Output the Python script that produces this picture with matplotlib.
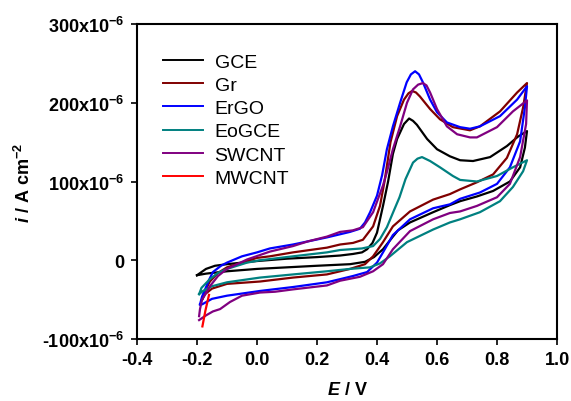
import numpy as np
import matplotlib
matplotlib.use("Agg")
import matplotlib.pyplot as plt
from matplotlib.ticker import FixedLocator, FixedFormatter

plt.rcParams['font.family'] = ['Liberation Sans', 'DejaVu Sans']
plt.rcParams['mathtext.fontset'] = 'custom'
plt.rcParams['mathtext.rm'] = 'Liberation Sans:bold'
plt.rcParams['mathtext.it'] = 'Liberation Sans:bold:italic'
plt.rcParams['mathtext.bf'] = 'Liberation Sans:bold'
plt.rcParams['axes.unicode_minus'] = False

# ---- data (E in V, i in uA cm^-2), closed CV loops: forward then reverse ----
gce_E = [-0.2, -0.17, -0.14, -0.1, -0.05, 0.0, 0.1, 0.2, 0.277, 0.32, 0.35, 0.367, 0.385, 0.4, 0.42, 0.437,
         0.453, 0.467, 0.49, 0.507, 0.52, 0.533, 0.55, 0.567, 0.6, 0.643, 0.677, 0.72, 0.777, 0.833, 0.87, 0.9,
         0.893, 0.877, 0.843, 0.787, 0.733, 0.677, 0.643, 0.587, 0.51, 0.47, 0.453, 0.42, 0.39, 0.36, 0.31,
         0.2, 0.1, 0.0, -0.1, -0.17, -0.2]
gce_i = [-19, -11, -7, -5, -3, -1, 2, 4, 6, 8, 10, 14, 22, 35, 69, 100,
         135, 154, 173, 180, 177, 172, 163, 154, 141, 132, 127, 126, 131, 145, 157, 164,
         143, 118, 100, 88, 81, 75, 70, 61, 48, 38, 30, 14, 4, -2, -5,
         -7, -9, -11, -14, -17, -19]

gr_E = [-0.183, -0.175, -0.157, -0.13, -0.1, -0.05, 0.0, 0.043, 0.12, 0.233, 0.277, 0.32, 0.353, 0.387, 0.41,
        0.425, 0.445, 0.467, 0.49, 0.505, 0.517, 0.53, 0.543, 0.577, 0.61, 0.653, 0.71, 0.743, 0.81, 0.867, 0.9,
        0.887, 0.867, 0.833, 0.787, 0.733, 0.677, 0.643, 0.587, 0.51, 0.453, 0.42, 0.387, 0.36, 0.31, 0.233,
        0.12, 0.01, -0.1, -0.15, -0.173, -0.183]
gr_i = [-50, -40, -27, -16, -9, -3, 3, 5, 10, 16, 20, 22, 26, 43, 69,
        100, 150, 183, 204, 212, 215, 213, 208, 192, 179, 169, 165, 170, 189, 213, 225,
        194, 160, 130, 109, 99, 90, 84, 77, 62, 43, 23, 5, -5, -11, -18,
        -22, -27, -30, -36, -43, -50]

ergo_E = [-0.19, -0.183, -0.173, -0.16, -0.147, -0.12, -0.1, -0.05, 0.0, 0.043, 0.12, 0.233, 0.277, 0.31,
          0.343, 0.36, 0.377, 0.4, 0.417, 0.433, 0.453, 0.477, 0.499, 0.513, 0.527, 0.54, 0.553, 0.577, 0.6,
          0.633, 0.677, 0.71, 0.743, 0.81, 0.867, 0.9,
          0.893, 0.877, 0.843, 0.8, 0.743, 0.677, 0.643, 0.587, 0.51, 0.453, 0.42, 0.4, 0.367, 0.32, 0.277,
          0.233, 0.12, 0.01, -0.1, -0.15, -0.183, -0.19]
ergo_i = [-56, -46, -37, -25, -15, -7, -3, 5, 10, 15, 20, 29, 33, 36,
          40, 48, 61, 82, 108, 141, 170, 200, 226, 236, 240, 236, 226, 204, 188,
          175, 169, 167, 170, 183, 204, 221,
          194, 151, 118, 97, 86, 78, 71, 66, 52, 32, 10, -3, -15, -20, -24,
          -28, -34, -39, -45, -49, -56, -56]

eo_E = [-0.193, -0.185, -0.157, -0.13, -0.1, -0.033, 0.01, 0.12, 0.233, 0.277, 0.35, 0.387, 0.41, 0.433,
        0.455, 0.475, 0.495, 0.52, 0.535, 0.55, 0.577, 0.61, 0.653, 0.677, 0.733, 0.8, 0.853, 0.9,
        0.887, 0.853, 0.81, 0.743, 0.677, 0.643, 0.587, 0.5, 0.443, 0.41, 0.377, 0.31, 0.233, 0.12,
        0.01, -0.1, -0.15, -0.18, -0.193]
eo_i = [-43, -35, -24, -16, -11, -3, 0, 5, 10, 13, 15, 18, 27, 42,
        62, 80, 103, 124, 129, 131, 126, 118, 107, 102, 100, 107, 118, 127,
        113, 93, 75, 61, 52, 48, 39, 23, 5, -4, -9, -11, -14, -18,
        -22, -28, -33, -39, -43]

sw_E = [-0.193, -0.19, -0.183, -0.157, -0.13, -0.1, -0.033, 0.043, 0.12, 0.17, 0.233, 0.277, 0.32, 0.353,
        0.387, 0.42, 0.433, 0.453, 0.477, 0.5, 0.52, 0.537, 0.553, 0.565, 0.577, 0.6, 0.633, 0.667, 0.71,
        0.733, 0.8, 0.853, 0.9,
        0.897, 0.877, 0.843, 0.8, 0.733, 0.677, 0.643, 0.587, 0.51, 0.453, 0.42, 0.387, 0.343, 0.277,
        0.233, 0.12, 0.06, 0.01, -0.05, -0.09, -0.123, -0.147, -0.17, -0.193]
sw_i = [-71, -62, -50, -33, -20, -11, 1, 11, 18, 24, 30, 36, 38, 42,
        61, 95, 112, 141, 170, 200, 217, 223, 225, 222, 213, 192, 170, 160, 156,
        156, 169, 189, 203,
        173, 131, 97, 80, 69, 62, 60, 52, 37, 14, -5, -14, -21, -26,
        -32, -37, -40, -41, -45, -53, -62, -65, -70, -76]

mw_E = [-0.182, -0.172, -0.16]
mw_i = [-84, -64, -44]

labels = ['GCE', 'Gr', 'ErGO', 'EoGCE', 'SWCNT', 'MWCNT']
colors = ['#000000', '#800000', '#0000FF', '#008080', '#800080', '#FF0000']

x_ticks = [-0.4, -0.2, 0.0, 0.2, 0.4, 0.6, 0.8, 1.0]
x_ticklabels = ['-0.4', '-0.2', '0.0', '0.2', '0.4', '0.6', '0.8', '1.0']
y_ticks = [-100, 0, 100, 200, 300]
y_ticklabels = [r'-100x10$^{\mathregular{-6}}$', '0', r'100x10$^{\mathregular{-6}}$',
                r'200x10$^{\mathregular{-6}}$', r'300x10$^{\mathregular{-6}}$']

fig = plt.figure(figsize=(5.71, 4.02), dpi=100)
ax = fig.add_axes([137 / 571, 62 / 402, 420 / 571, 315 / 402])

series = [(gce_E, gce_i), (gr_E, gr_i), (ergo_E, ergo_i), (eo_E, eo_i), (sw_E, sw_i), (mw_E, mw_i)]
for (E, i), lab, c in zip(series, labels, colors):
    ax.plot(E, i, color=c, lw=1.6, label=lab, solid_joinstyle='round')

ax.set_xlim(-0.4, 1.0)
ax.set_ylim(-100, 300)
ax.xaxis.set_major_locator(FixedLocator(x_ticks))
ax.xaxis.set_major_formatter(FixedFormatter(x_ticklabels))
ax.yaxis.set_major_locator(FixedLocator(y_ticks))
ax.yaxis.set_major_formatter(FixedFormatter(y_ticklabels))
ax.tick_params(direction='out', length=4, width=1.2, labelsize=13, pad=5)
for lab in ax.get_xticklabels() + ax.get_yticklabels():
    lab.set_fontweight('bold')
for sp in ax.spines.values():
    sp.set_linewidth(1.5)

ax.set_xlabel(r'$\it{E}$ / V', fontsize=13, fontweight='bold', labelpad=9)
ax.set_ylabel(r'$\it{i}$ / A cm$^{\mathregular{-2}}$', fontsize=13, fontweight='bold', labelpad=6)

leg = ax.legend(loc='upper left', bbox_to_anchor=(0.062, 0.908), frameon=False, fontsize=14,
                handlelength=2.05, handletextpad=0.6, labelspacing=0.29, borderpad=0, borderaxespad=0)
for h in leg.get_lines():
    h.set_linewidth(1.4)

fig.savefig('out.png', dpi=100)
